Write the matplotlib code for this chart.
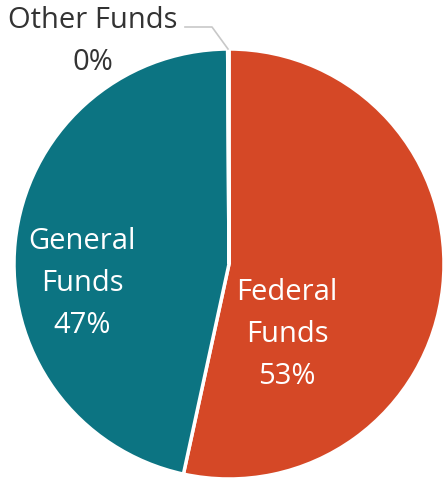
import matplotlib
matplotlib.use("Agg")
import matplotlib.pyplot as plt

categories = ["Federal Funds", "General Funds", "Other Funds"]
values = [53.4, 46.5, 0.1]
labels_pct = ["53%", "47%", "0%"]
colors = ["#D54826", "#0C7482", "#A5A5A5"]

plt.rcParams['font.family'] = ['Open Sans', 'DejaVu Sans']

fig = plt.figure(figsize=(4.47, 4.8), dpi=100)
ax = fig.add_axes([0, 0, 1, 1])

cx, cy, r = 229, 480 - 264, 215
ax.pie(values, colors=colors, startangle=90, counterclock=False,
       center=(cx, cy), radius=r, frame=True,
       wedgeprops=dict(edgecolor='white', linewidth=2.5))
ax.set_xlim(0, 447)
ax.set_ylim(0, 480)
ax.set_aspect('equal')
ax.axis('off')

fs = 21

def block(x, baselines, lines, color):
    for b, t in zip(baselines, lines):
        ax.text(x, 480 - b, t, color=color, fontsize=fs, ha='center', va='baseline')

block(287, [300, 342, 384], ["Federal", "Funds", labels_pct[0]], 'white')
block(82, [249, 291, 333], ["General", "Funds", labels_pct[1]], 'white')
block(92.5, [28, 70], ["Other Funds", labels_pct[2]], '#333333')
ax.plot([185, 212, 228], [480 - 27, 480 - 27, 480 - 49], color='#C8C8C8', lw=1.2)

fig.savefig("out.png", dpi=100)
